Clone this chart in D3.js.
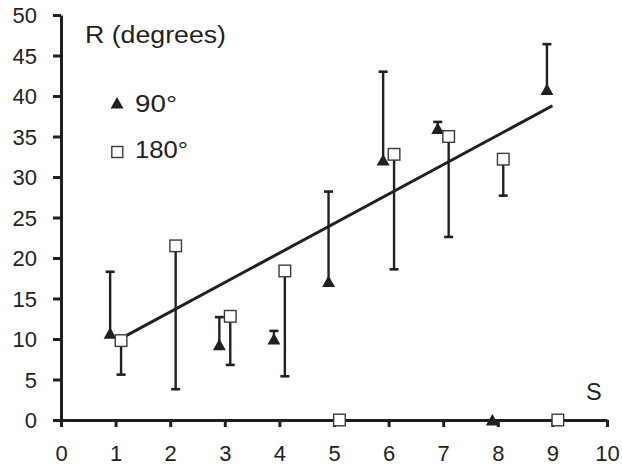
<!DOCTYPE html>
<html><head><meta charset="utf-8">
<script src="https://cdn.jsdelivr.net/npm/d3@7"></script>
<style>body{margin:0;background:#fff}svg{display:block}text{font-family:"Liberation Sans",Arial,sans-serif;fill:#231f20}</style>
</head><body>
<script>
// Data
const xTicks = [0,1,2,3,4,5,6,7,8,9,10];
const yTicks = [0,5,10,15,20,25,30,35,40,45,50];
const s90 = [0.9,2.9,3.9,4.9,5.9,6.9,7.9,8.9];
const r90 = [10.7,9.3,10.0,17.1,32.1,36.0,0,40.8];
const err90 = [18.3,12.7,11.0,28.2,43.0,36.8,null,46.4];   // upper error ends
const s180 = [1.1,2.1,3.1,4.1,5.1,6.1,7.1,8.1,9.1];
const r180 = [9.8,21.5,12.8,18.4,0,32.8,35.0,32.2,0];
const err180 = [5.6,3.8,6.8,5.4,null,18.6,22.6,27.7,null]; // lower error ends
const trendS = [1,9];
const trendR = [9.7,38.8];

const W=622,H=465, ink="#231f20";
const svg=d3.select("body").append("svg").attr("width",W).attr("height",H);
const x=d3.scaleLinear().domain([0,10]).range([61,607]);
const y=d3.scaleLinear().domain([0,50]).range([420,15]);

// axes
const xAxis=d3.axisBottom(x).tickValues(xTicks).tickSize(7).tickSizeOuter(0).tickPadding(18);
const gx=svg.append("g").attr("transform",`translate(0,${y(0)})`).call(xAxis);
const yAxis=d3.axisLeft(y).tickValues(yTicks).tickSize(8).tickSizeOuter(0).tickPadding(16);
const gy=svg.append("g").attr("transform",`translate(${x(0)},0)`).call(yAxis);
[gx,gy].forEach(g=>{
  g.select(".domain").attr("stroke",ink).attr("stroke-width",3);
  g.selectAll(".tick line").attr("stroke",ink).attr("stroke-width",3);
  g.selectAll(".tick text").style("font-size","22px").attr("fill",ink);
});
gy.selectAll(".tick text").attr("dy","0.36em");
gx.selectAll(".tick text").attr("dy","0.71em");

// trend line
svg.append("line").attr("x1",x(trendS[0])).attr("y1",y(trendR[0]))
  .attr("x2",x(trendS[1])).attr("y2",y(trendR[1]))
  .attr("stroke",ink).attr("stroke-width",3);

// error bars
function errBars(S,R,E){
  S.forEach((s,i)=>{
    if(E[i]==null) return;
    svg.append("line").attr("x1",x(s)).attr("x2",x(s)).attr("y1",y(R[i])).attr("y2",y(E[i]))
      .attr("stroke",ink).attr("stroke-width",2.4);
    svg.append("line").attr("x1",x(s)-4.5).attr("x2",x(s)+4.5).attr("y1",y(E[i])).attr("y2",y(E[i]))
      .attr("stroke",ink).attr("stroke-width",2.6);
  });
}
errBars(s90,r90,err90);
errBars(s180,r180,err180);

const tri=(cx,cy)=>`M${cx},${cy-6}L${cx+6.5},${cy+5.5}L${cx-6.5},${cy+5.5}Z`;
// markers
s90.forEach((s,i)=>{
  svg.append("path").attr("d",tri(x(s),y(r90[i]))).attr("fill",ink);
});
s180.forEach((s,i)=>{
  svg.append("rect").attr("x",x(s)-5.8).attr("y",y(r180[i])-5.8).attr("width",11.6).attr("height",11.6)
    .attr("fill","#fff").attr("stroke","#3a3a3a").attr("stroke-width",1.4);
});

// labels
svg.append("text").attr("x",85).attr("y",43).style("font-size","23px")
  .attr("textLength",141).attr("lengthAdjust","spacingAndGlyphs").text("R (degrees)");
svg.append("text").attr("x",586).attr("y",400).style("font-size","23.5px").text("S");
// legend
svg.append("path").attr("d",tri(117,103)).attr("fill",ink);
svg.append("text").attr("x",135).attr("y",111.5).style("font-size","24.5px")
  .attr("textLength",42).attr("lengthAdjust","spacingAndGlyphs").text("90°");
svg.append("rect").attr("x",111.8).attr("y",146.5).attr("width",11).attr("height",11)
  .attr("fill","#fff").attr("stroke","#3a3a3a").attr("stroke-width",1.4);
svg.append("text").attr("x",135).attr("y",158).style("font-size","24.5px")
  .attr("textLength",53).attr("lengthAdjust","spacingAndGlyphs").text("180°");
</script>
</body></html>
